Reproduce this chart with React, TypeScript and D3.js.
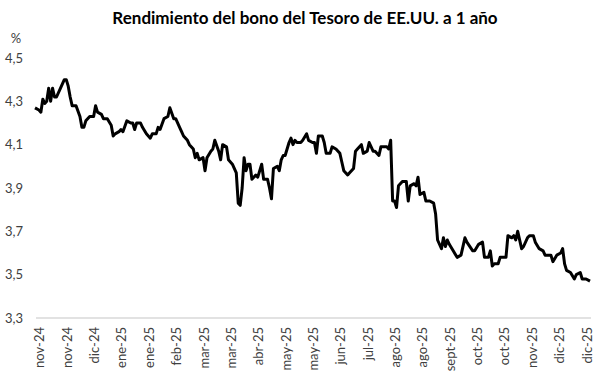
import React from "react";
import * as d3 from "d3";

// Trading-day index (from start of series) and 1-year Treasury yield (%)
const days: number[] = [
  0, 2, 3, 4, 5, 6, 7, 8, 9, 10, 11, 13, 15, 16, 17, 18, 19, 21, 23, 24, 25, 26, 28, 30, 31, 32, 34, 35, 37, 39,
  40, 41, 43, 44, 45, 47, 49, 50, 51, 52, 54, 55, 57, 59, 60, 62, 63, 64, 66, 68, 69, 71, 72, 74, 75, 76, 78, 79, 81, 82,
  83, 84, 86, 87, 88, 90, 91, 92, 94, 95, 96, 98, 99, 101, 103, 104, 105, 106, 107, 108, 109, 110, 111, 113, 114, 116, 117, 119, 120, 121,
  122, 124, 125, 126, 127, 128, 129, 130, 131, 132, 133, 134, 136, 137, 139, 140, 142, 143, 144, 145, 147, 148, 149, 151, 152, 154, 156, 157, 158, 160,
  161, 163, 164, 165, 167, 168, 170, 171, 173, 174, 176, 177, 180, 181, 182, 183, 184, 185, 186, 188, 190, 191, 192, 194, 195, 196, 197, 199, 200, 202,
  204, 205, 206, 208, 209, 210, 211, 212, 214, 216, 218, 220, 221, 224, 225, 227, 229, 230, 232, 233, 234, 235, 237, 238, 241, 242, 244, 245, 246, 247,
  249, 250, 252, 253, 255, 256, 258, 260, 261, 264, 265, 267, 269, 270, 271, 272, 274, 276, 277, 279, 280, 281, 282, 284,
];

const yields: number[] = [
  4.27, 4.26, 4.25, 4.31, 4.29, 4.30, 4.36, 4.30, 4.36, 4.32, 4.32, 4.36, 4.40, 4.40, 4.37, 4.32, 4.28, 4.28, 4.23, 4.18, 4.18, 4.21, 4.23, 4.23, 4.28, 4.25, 4.24, 4.22, 4.22, 4.19,
  4.14, 4.15, 4.16, 4.17, 4.16, 4.21, 4.20, 4.20, 4.17, 4.20, 4.20, 4.18, 4.15, 4.13, 4.15, 4.15, 4.18, 4.17, 4.22, 4.23, 4.27, 4.22, 4.22, 4.18, 4.16, 4.14, 4.12, 4.10, 4.08, 4.04,
  4.06, 4.03, 4.04, 3.98, 4.04, 4.07, 4.08, 4.12, 4.07, 4.03, 4.10, 4.09, 4.03, 4.01, 3.97, 3.83, 3.82, 3.90, 4.04, 3.98, 4.01, 4.01, 3.94, 3.96, 3.95, 4.01, 3.94, 3.94, 3.90, 3.85,
  3.99, 4.00, 3.98, 4.03, 4.05, 4.05, 4.08, 4.11, 4.13, 4.10, 4.12, 4.11, 4.11, 4.12, 4.15, 4.12, 4.11, 4.11, 4.06, 4.14, 4.14, 4.11, 4.06, 4.06, 4.09, 4.08, 4.06, 4.02, 3.98, 3.96,
  3.97, 3.99, 4.07, 4.08, 4.10, 4.06, 4.07, 4.11, 4.07, 4.07, 4.05, 4.09, 4.09, 4.08, 4.12, 3.84, 3.84, 3.81, 3.91, 3.93, 3.93, 3.84, 3.91, 3.92, 3.91, 3.95, 3.87, 3.88, 3.84, 3.84,
  3.83, 3.78, 3.66, 3.62, 3.67, 3.63, 3.66, 3.64, 3.61, 3.58, 3.59, 3.67, 3.65, 3.61, 3.61, 3.64, 3.65, 3.58, 3.58, 3.61, 3.54, 3.55, 3.55, 3.58, 3.58, 3.68, 3.67, 3.68, 3.66, 3.70,
  3.62, 3.63, 3.67, 3.68, 3.68, 3.65, 3.62, 3.61, 3.59, 3.59, 3.56, 3.59, 3.60, 3.62, 3.55, 3.52, 3.51, 3.48, 3.50, 3.51, 3.48, 3.48, 3.48, 3.47,
];

const xLabels: string[] = [
  "nov-24", "nov-24", "dic-24", "ene-25", "ene-25", "feb-25", "mar-25", "mar-25", "abr-25", "may-25", "may-25",
  "jun-25", "jul-25", "ago-25", "ago-25", "sept-25", "oct-25", "oct-25", "nov-25", "dic-25", "dic-25",
];

const yTicks: number[] = [3.3, 3.5, 3.7, 3.9, 4.1, 4.3, 4.5];

const title = "Rendimiento del bono del Tesoro de EE.UU. a 1 año";

const W = 601;
const H = 380;
const FONT = "Lato, 'Open Sans', sans-serif";

export default function App() {
  const x = d3.scaleLinear().domain([0, 284]).range([35, 590]);
  const y = d3.scaleLinear().domain([3.3, 4.5]).range([318, 58]);
  const labelStep = 14;
  const labelOffset = 2.5;

  const pts: [number, number][] = days.map((d, i) => [d, yields[i]]);
  const line = d3
    .line<[number, number]>()
    .x((d) => x(d[0]))
    .y((d) => y(d[1]))
    .curve(d3.curveLinear);

  const fmt = (v: number) => v.toFixed(1).replace(".", ",");

  return (
    <svg
      width={W}
      height={H}
      style={{ position: "absolute", left: 0, top: 0, background: "#fff" }}
      fontFamily={FONT}
    >
      <rect x={0} y={0} width={W} height={H} fill="#fff" />
      <text x={305} y={24} textAnchor="middle" fontSize={17} fontWeight="bold" fill="#000">
        {title}
      </text>
      <text x={16} y={43} textAnchor="middle" fontSize={13} fill="#404040">
        %
      </text>
      {yTicks.map((t) => (
        <text key={t} x={23} y={y(t) + 4.5} textAnchor="end" fontSize={13} fill="#404040">
          {fmt(t)}
        </text>
      ))}
      <line x1={36} x2={591} y1={y(3.3)} y2={y(3.3)} stroke="#d9d9d9" strokeWidth={1.5} />
      {xLabels.map((lab, i) => {
        const xp = x(labelOffset + i * labelStep);
        return (
          <text
            key={i}
            transform={`translate(${xp + 4.5},327) rotate(-90)`}
            textAnchor="end"
            fontSize={13}
            fill="#404040"
          >
            {lab}
          </text>
        );
      })}
      <path d={line(pts) || ""} fill="none" stroke="#000" strokeWidth={3} strokeLinejoin="round" />
    </svg>
  );
}
